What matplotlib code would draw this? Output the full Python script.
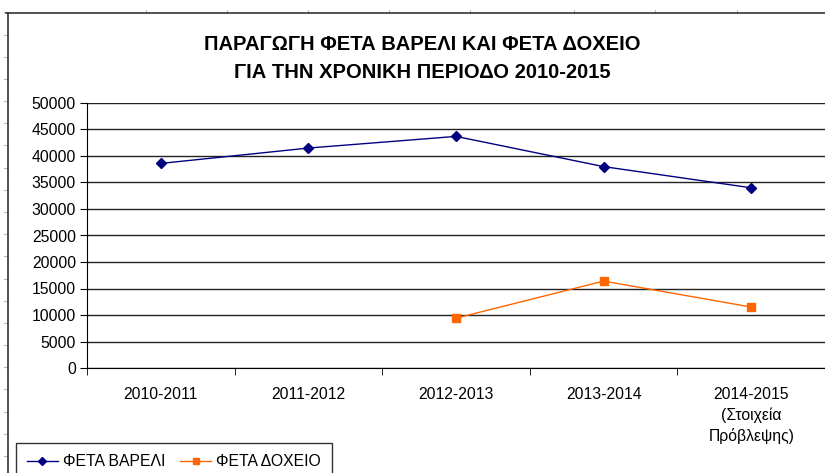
import matplotlib.pyplot as plt
from matplotlib.lines import Line2D
import numpy as np

plt.rcParams['font.family'] = ['Liberation Sans Narrow', 'Liberation Sans', 'DejaVu Sans']

periods = ['2010-2011', '2011-2012', '2012-2013', '2013-2014',
           '2014-2015\n(Στοιχεία\nΠρόβλεψης)']
feta_vareli = [38600, 41500, 43700, 38000, 34000]
feta_doxeio = [np.nan, np.nan, 9400, 16400, 11500]

W, H = 825, 473
fig = plt.figure(figsize=(8.25, 4.73), dpi=100)
ax = fig.add_axes([87/W, 1-368/H, 1-87/W, 265/H])

x = np.arange(len(periods))
ax.plot(x, feta_vareli, color='#000080', marker='D', markersize=5, lw=1, label='ΦΕΤΑ ΒΑΡΕΛΙ')
ax.plot(x, feta_doxeio, color='#FF6600', marker='s', markersize=5.5, lw=1, label='ΦΕΤΑ ΔΟΧΕΙΟ')

ax.set_xlim(-0.5, 4.5)
ax.set_ylim(0, 50000)
ax.set_yticks(np.arange(0, 50001, 5000))
ax.yaxis.grid(True, color='#222222', lw=1)
ax.set_axisbelow(True)
ax.set_xticks(x)
ax.set_xticklabels(periods, fontsize=11.3, linespacing=1.4, va='top')
ax.set_xticks(np.arange(-0.5, 4.6, 1), minor=True)
ax.tick_params(axis='x', which='major', length=0, pad=14)
ax.tick_params(axis='x', which='minor', length=5, color='black')
ax.tick_params(axis='y', length=5, labelsize=11.3, pad=3)
for s in ['top', 'right']:
    ax.spines[s].set_visible(False)
for s in ['left', 'bottom']:
    ax.spines[s].set_color('black')

fig.text(0.512, 1-45/H, 'ΠΑΡΑΓΩΓΗ ΦΕΤΑ ΒΑΡΕΛΙ ΚΑΙ ΦΕΤΑ ΔΟΧΕΙΟ', ha='center', va='center',
         fontsize=14.5, fontweight='bold')
fig.text(0.512, 1-72/H, 'ΓΙΑ ΤΗΝ ΧΡΟΝΙΚΗ ΠΕΡΙΟΔΟ 2010-2015', ha='center', va='center',
         fontsize=14.5, fontweight='bold')

# faint spreadsheet cell marks around the chart
for k in range(21):
    yy = 1 - (12.4 + 22.18*k)/H
    fig.add_artist(Line2D([4/W, 7/W], [yy, yy], color='#bbbbbb', lw=0.8))
for xc in [146, 227, 308, 389, 470, 574, 655, 737]:
    fig.add_artist(Line2D([xc/W, xc/W], [1-10/H, 1-13/H], color='#bbbbbb', lw=0.8))

# outer chart frame
fig.add_artist(Line2D([6/W, 1], [1-13/H, 1-13/H], color='#333333', lw=1.2))
fig.add_artist(Line2D([8/W, 8/W], [0, 1-13/H], color='#333333', lw=1.2))

leg = fig.legend(loc='lower left', bbox_to_anchor=(11/W, -0.025), ncol=2, fontsize=11.3,
                 frameon=True, fancybox=False, edgecolor='black', handlelength=2.0,
                 handletextpad=0.3, columnspacing=0.95, borderpad=0.7, borderaxespad=0.3)
leg.get_frame().set_linewidth(1)
for h in leg.legend_handles:
    h.set_markersize(4.5)

fig.savefig('out.png', dpi=100)
